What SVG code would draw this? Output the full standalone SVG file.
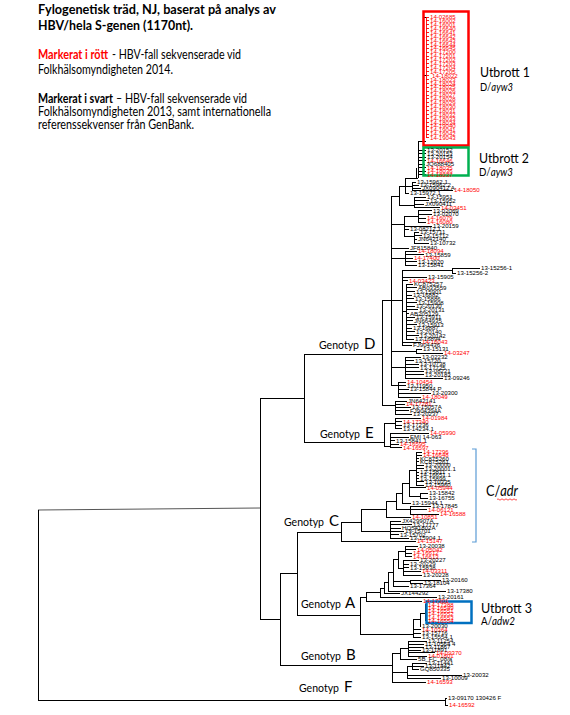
<svg xmlns="http://www.w3.org/2000/svg" width="570" height="715" viewBox="0 0 570 715">
<style>
.bg{fill:#fff}
.br{fill:none;stroke:#000;stroke-width:1}
.rb{fill:none;stroke:#f00;stroke-width:0.9}
.lf{font-family:"Liberation Sans",Arial,sans-serif;font-size:6.1px;fill:#000}
.r{fill:#f00}
.t{font-family:Lato,"Open Sans",sans-serif;font-size:13.5px;font-weight:bold;fill:#000}
.tx{font-family:Lato,"Open Sans",sans-serif;font-size:12.5px;fill:#000}
.gt{font-family:Lato,"Open Sans",sans-serif;font-size:11px;fill:#000}
.gl{font-family:Lato,"Open Sans",sans-serif;font-size:15px;fill:#000}
.ut{font-family:Lato,"Open Sans",sans-serif;font-size:14px;fill:#000}
.us{font-family:Lato,"Open Sans",sans-serif;font-size:11px;fill:#000}
.box{fill:none;stroke-width:2.5}
</style>
<rect class="bg" x="0" y="0" width="570" height="715"/>

<g id="legend">
<text class="t" x="38" y="14" textLength="238" lengthAdjust="spacingAndGlyphs">Fylogenetisk träd, NJ, baserat på analys av</text>
<text class="t" x="38" y="30" textLength="155" lengthAdjust="spacingAndGlyphs">HBV/hela S-genen (1170nt).</text>
<text class="tx" x="38" y="59" textLength="70" lengthAdjust="spacingAndGlyphs" font-weight="bold" style="fill:#f00">Markerat i rött</text>
<text class="tx" x="112" y="59" textLength="129" lengthAdjust="spacingAndGlyphs">-  HBV-fall sekvenserade vid</text>
<text class="tx" x="38" y="74" textLength="135" lengthAdjust="spacingAndGlyphs">Folkhälsomyndigheten 2014.</text>
<text class="tx" x="38" y="103" textLength="75" lengthAdjust="spacingAndGlyphs" font-weight="bold">Markerat i svart</text>
<text class="tx" x="116" y="103" textLength="131" lengthAdjust="spacingAndGlyphs">– HBV-fall sekvenserade vid</text>
<text class="tx" x="38" y="116" textLength="233" lengthAdjust="spacingAndGlyphs">Folkhälsomyndigheten 2013, samt internationella</text>
<text class="tx" x="38" y="129" textLength="156" lengthAdjust="spacingAndGlyphs">referenssekvenser från GenBank.</text>
</g>

<g id="connectors">
<path d="M260,508 L38,510" fill="none" stroke="#555" stroke-width="1"/>
<g shape-rendering="crispEdges">
<path class="br" d="M38,510V700H445M260,398V619M260,398H304M304,354V442M304,354H382M304,442H384M260,619H280M280,573V665M280,573H297M297,532V615M297,532H341M297,615H360M280,665H392"/>
<path class="br" d="M382,300V405M382,300H391M391,196V385M382,405H395M395,401V414M395,401H407M395,404H405M395,407H411M395,410.5H409M395,414H412"/>
<path class="br" d="M391,196H399M399,186V205M399,186H405M405,178V193M405,178H418M418,141V178M418,141H426M405,186H412M412,182V190M412,182H416M412,185H419M412,188H421M412,190H453M405,193H409M399,205H414M414,197V207.5M414,197H426M414,200.5H429M414,204H424M414,207.5H440"/>
<path class="br" d="M423,15V20M423,17.5H426M423,73V78M423,75.5H426"/>
<path class="br" d="M418,150H426M418,153.5H426M418,157H426M418,160.5H426M418,164H425M418,167.5H426M418,171H426M418,174.5H426M416,168V178"/>
<path class="br" d="M391,224H404M404,216V236M404,216H418M418,210.5V222M418,210.5H432M418,214H432M418,218H426M418,222H426M404,226H432M404,229H409M404,236H414M414,232V243M414,232H419M414,235.5H422M414,239H417M414,243H429M391,248H409"/>
<path class="br" d="M391,258H405M405,251V265M405,251H417M405,254.5H424M405,258H413M405,261.5H417M405,265H417"/>
<path class="br" d="M391,300H402M402,270.5V345M402,270.5H452M452,268V273M452,268H480M452,273H456M402,277H427M402,280.5H408M402,311H406M406,284V339M406,284H413M406,287.7H417M406,291.4H415M406,295H412M406,298.7H414M406,302.4H417M406,306H415M406,309.7H418M406,313.4H409M406,317H415M406,320.7H413M406,324.4H417M406,328H412M406,331.7H415M406,335.4H419M406,339H414M402,342H421M402,345H412"/>
<path class="br" d="M391,351H416M416,349V353M416,349H422M416,353H443M391,367H405M405,357V378M405,357H421M405,360.5H414M405,364H419M405,367.5H419M405,371H424M405,374.5H424M405,378H443M391,385H398M398,382V397M398,382H406M398,385.5H406M398,389H409M398,393H431M398,397H421"/>
<path class="br" d="M384,423V446M384,423H395M395,418V428.5M395,418H421M395,421.5H402M395,425H402M395,428.5H402M384,446H390M390,433V447.5M390,433H429M390,437H409M390,440.5H395M390,444H399M390,447.5H402"/>
<path class="br" d="M341,522V541M341,522H361M361,509V531M341,541H416M361,509H386M386,501V517M386,501H396M386,517H411M396,493V509M396,493H402M396,509H410M410,506V514M410,506H431M410,509.5H427M410,514H439M402,483V503M402,483H409M402,503H411M409,470V496M409,470H416M409,487.5H426M409,496H420M420,493V498M420,493H428M420,498H428M416,452V485M416,452H422M416,455H422M416,458.3H419M416,461.5H419M416,465H424M416,468.5H424M416,472H419M416,475H419M416,478.3H419M416,481.7H424M416,485H424"/>
<path class="br" d="M361,531H390M390,521V538M390,521H401M390,524.5H412M390,528H401M390,531H404M390,534.5H399M390,538H409"/>
<path class="br" d="M360,597V634M360,597H366M366,592V601M366,592H380M366,601H422M380,588V597M380,588H384M380,597H437M384,582V593M384,582H388M384,593H400M388,572V591M388,572H393M388,591H446M393,559V586M393,559H398M393,581.5H410M393,586H409M410,580V583M410,580H441M410,583H423M398,551V568M398,551H405M398,568H403M405,546V556.5M405,546H418M405,549.5H416M405,553H412M405,556.5H412M403,560V575M403,560H419M403,564H409M403,567.5H409M403,571H421M403,575H422"/>
<path class="br" d="M360,634H413M413,619V637M413,619H420M420,613V626M420,613H425M425,604.5V620.5M425,604.5H427M425,607.7H427M425,610.9H427M425,614.1H427M425,617.3H427M425,620.5H427M420,626H421M413,629.5H421M413,633H421M413,637H421"/>
<path class="br" d="M392,653V682M392,653H400M400,648V659M400,648H408M400,659H417M408,641V656M408,641H427M408,644H424M408,647H424M408,650H421M408,652.5H435M408,656H427M392,672H407M407,666V678M407,666H412M412,663V669M412,663H427M412,666H424M412,669H419M407,675H462M407,678H441M392,682H426"/>
<path class="br" d="M445,698V705M445,698H447M445,705H448"/>
<path class="rb" d="M426,17V138M426,17H429M426,20.9H429M426,24.8H429M426,28.7H429M426,32.6H429M426,36.5H429M426,40.4H429M426,44.3H429M426,48.2H429M426,52.1H429M426,56H429M426,59.9H429M426,63.8H429M426,67.7H429M426,71.6H429M426,75.5H429M426,79.4H429M426,83.3H429M426,87.2H429M426,91.1H429M426,95H429M426,98.9H429M426,102.8H429M426,106.7H429M426,110.6H429M426,114.5H429M426,118.4H429M426,122.3H429M426,126.2H429M426,130.1H429M426,134H429M426,137.9H429"/>
</g>
</g>

<g id="genotypes">
<g id="genotyp-d"><text class="gt" x="319" y="349" textLength="40" lengthAdjust="spacingAndGlyphs">Genotyp</text><text class="gl" x="364" y="349">D</text></g>
<g id="genotyp-e"><text class="gt" x="320" y="438" textLength="40" lengthAdjust="spacingAndGlyphs">Genotyp</text><text class="gl" x="365" y="438">E</text></g>
<g id="genotyp-c"><text class="gt" x="284" y="526" textLength="40" lengthAdjust="spacingAndGlyphs">Genotyp</text><text class="gl" x="329" y="526">C</text></g>
<g id="genotyp-a"><text class="gt" x="301" y="608" textLength="40" lengthAdjust="spacingAndGlyphs">Genotyp</text><text class="gl" x="345" y="608">A</text></g>
<g id="genotyp-b"><text class="gt" x="301" y="660" textLength="40" lengthAdjust="spacingAndGlyphs">Genotyp</text><text class="gl" x="346" y="660">B</text></g>
<g id="genotyp-f"><text class="gt" x="299" y="692" textLength="40" lengthAdjust="spacingAndGlyphs">Genotyp</text><text class="gl" x="344" y="692">F</text></g>
</g>

<g id="utbrott-1">
<rect class="box" x="423.5" y="11.5" width="45" height="134" stroke="#f00"/>
<text class="ut" x="480" y="77" textLength="50" lengthAdjust="spacingAndGlyphs">Utbrott 1</text>
<text class="us" x="480" y="91" textLength="33" lengthAdjust="spacingAndGlyphs">D/<tspan font-style="italic">ayw3</tspan></text>
</g>
<g id="utbrott-2">
<rect class="box" x="423.5" y="147.5" width="45" height="28" stroke="#00b050"/>
<text class="ut" x="479" y="163" textLength="50" lengthAdjust="spacingAndGlyphs">Utbrott 2</text>
<text class="us" x="479" y="176" textLength="34" lengthAdjust="spacingAndGlyphs">D/<tspan font-style="italic">ayw3</tspan></text>
</g>
<g id="utbrott-3">
<rect class="box" x="426.5" y="601.5" width="45" height="21.5" stroke="#0070c0"/>
<text class="ut" x="481" y="613" textLength="51" lengthAdjust="spacingAndGlyphs">Utbrott 3</text>
<text class="us" x="481" y="625" textLength="34" lengthAdjust="spacingAndGlyphs">A/<tspan font-style="italic">adw2</tspan></text>
</g>
<g id="c-adr">
<path d="M472,449H476V542H472" fill="none" stroke="#5b9bd5" stroke-width="1.2"/>
<text class="gl" x="486" y="496" textLength="32" lengthAdjust="spacingAndGlyphs">C/<tspan font-style="italic">adr</tspan></text>
<path d="M497,499.5q1,-1.3 2,0t2,0t2,0t2,0t2,0t2,0t2,0t2,0t2,0t2,0" fill="none" stroke="#f00" stroke-width="0.7"/>
</g>

<g id="leaves-utbrott1">
<text class="lf r" x="430" y="19.2">14-02685</text><text class="lf r" x="430" y="23.1">14-16002</text><text class="lf r" x="430" y="27">14-16001</text><text class="lf r" x="430" y="30.9">14-16640</text><text class="lf r" x="430" y="34.8">14-16641</text><text class="lf r" x="430" y="38.7">14-16642</text><text class="lf r" x="430" y="42.6">14-16643</text><text class="lf r" x="430" y="46.5">14-16644</text><text class="lf r" x="430" y="50.4">14-16645</text><text class="lf r" x="430" y="54.3">14-17200</text><text class="lf r" x="430" y="58.2">14-17201</text><text class="lf r" x="430" y="62.1">14-17202</text><text class="lf r" x="430" y="66">14-17203</text><text class="lf r" x="430" y="69.9">14-17204</text><text class="lf r" x="430" y="73.8">14-17205</text><text class="lf r" x="432" y="77.7">14-18022</text><text class="lf r" x="430" y="81.6">14-18023</text><text class="lf r" x="430" y="85.5">14-18024</text><text class="lf r" x="430" y="89.4">14-18025</text><text class="lf r" x="430" y="93.3">14-18026</text><text class="lf r" x="430" y="97.2">14-18027</text><text class="lf r" x="430" y="101.1">14-18028</text><text class="lf r" x="430" y="105">14-18029</text><text class="lf r" x="430" y="108.9">14-18030</text><text class="lf r" x="430" y="112.8">14-18031</text><text class="lf r" x="430" y="116.7">14-18032</text><text class="lf r" x="430" y="120.6">14-18033</text><text class="lf r" x="430" y="124.5">14-18034</text><text class="lf r" x="430" y="128.4">14-19040</text><text class="lf r" x="430" y="132.3">14-19041</text><text class="lf r" x="430" y="136.2">14-19042</text><text class="lf r" x="430" y="140.1">14-19043</text>
</g>
<g id="leaves-utbrott2">
<text class="lf" x="427" y="152.2">13-20152</text><text class="lf" x="427" y="155.7">13-20153</text><text class="lf" x="427" y="159.2">13-20154</text><text class="lf r" x="427" y="162.7">14-16646</text><text class="lf" x="426" y="166.2">JQ688405</text><text class="lf r" x="427" y="169.7">14-18035</text><text class="lf r" x="427" y="173.2">14-18036</text><text class="lf r" x="427" y="176.7">14-18037</text>
</g>
<g id="leaves-d">
<text class="lf" x="417" y="184.2">13-15962.1</text><text class="lf" x="420" y="187.2">13-15962.2</text><text class="lf" x="422" y="190.2">JX090412 A</text><text class="lf r" x="454" y="192.2">14-18050</text><text class="lf" x="410" y="195.2">13-15972.1</text>
<text class="lf" x="427" y="199.2">13-15951</text><text class="lf" x="430" y="202.7">13-15952</text><text class="lf" x="425" y="206.2">JX090411</text><text class="lf r" x="441" y="209.7">14-03451</text>
<text class="lf" x="433" y="212.7">13-02069</text><text class="lf" x="433" y="216.2">13-02070</text><text class="lf r" x="427" y="220.2">14-16079</text><text class="lf r" x="427" y="224.2">14-16080</text><text class="lf" x="433" y="228.2">13-20159</text><text class="lf" x="410" y="231.2">13-08212.1</text>
<text class="lf" x="420" y="234.2">13-15711</text><text class="lf" x="423" y="237.7">13-15712</text><text class="lf" x="418" y="241.2">JN642140</text><text class="lf" x="430" y="245.2">13-10732</text><text class="lf" x="410" y="250.2">JF815840</text>
<text class="lf r" x="418" y="253.2">14-18094</text><text class="lf" x="425" y="256.7">13-15859</text><text class="lf r" x="414" y="260.2">14-17400</text><text class="lf" x="418" y="263.7">13-12020</text><text class="lf" x="418" y="267.2">13-15841</text>
<text class="lf" x="481" y="270.2">13-15256-1</text><text class="lf" x="457" y="275.2">13-15256-2</text><text class="lf" x="428" y="279.2">13-15905</text><text class="lf r" x="409" y="282.7">14-03423</text>
<text class="lf" x="414" y="286.2">KC875257</text><text class="lf" x="418" y="289.9">AB033559</text><text class="lf" x="416" y="293.6">13-15901</text><text class="lf" x="413" y="297.2">13-16882</text><text class="lf" x="415" y="300.9">13-15886</text><text class="lf" x="418" y="304.6">13-15908</text><text class="lf" x="416" y="308.2">13-20130</text><text class="lf" x="419" y="311.9">13-20131</text><text class="lf" x="410" y="315.6">AB205129</text><text class="lf" x="416" y="319.2">13-15911</text><text class="lf" x="414" y="322.9">JN664935</text><text class="lf" x="418" y="326.6">13-15913</text><text class="lf" x="413" y="330.2">13-16887</text><text class="lf" x="416" y="333.9">13-20140</text><text class="lf" x="420" y="337.6">13-20142</text><text class="lf" x="415" y="341.2">13-16894</text>
<text class="lf r" x="422" y="344.2">14-16043</text><text class="lf" x="413" y="347.2">FJ904436</text><text class="lf" x="423" y="351.2">13-15131</text><text class="lf r" x="444" y="355.2">14-03247</text>
<text class="lf" x="422" y="359.2">13-02232</text><text class="lf" x="415" y="362.7">13-15720</text><text class="lf" x="420" y="366.2">13-10738</text><text class="lf" x="420" y="369.7">13-17725</text><text class="lf" x="425" y="373.2">13-08221</text><text class="lf" x="425" y="376.7">13-20183</text><text class="lf" x="444" y="380.2">13-09246</text>
<text class="lf r" x="407" y="384.2">14-10454</text><text class="lf" x="407" y="387.7">13-11950</text><text class="lf" x="410" y="391.2">13-15844 P</text><text class="lf" x="432" y="395.2">13-20300</text><text class="lf r" x="422" y="399.2">14-18049</text>
<text class="lf" x="408" y="403.2">JN642141</text><text class="lf r" x="406" y="406.2">14-17281</text><text class="lf" x="412" y="409.2">13-15057A</text><text class="lf" x="410" y="412.7">FJ904394A</text><text class="lf" x="413" y="416.2">13-20237</text>
</g>
<g id="leaves-e">
<text class="lf r" x="422" y="420.2">14-01984</text><text class="lf r" x="403" y="423.7">14-17340</text><text class="lf" x="403" y="427.2">13-17236</text><text class="lf" x="403" y="430.7">13-14234.1</text><text class="lf r" x="430" y="435.2">14-05990</text><text class="lf" x="410" y="439.2">EMI 14-063</text><text class="lf" x="396" y="442.7">13-15841.1</text><text class="lf r" x="400" y="446.2">14-16595</text><text class="lf r" x="403" y="449.7">14-16597</text>
</g>
<g id="leaves-c">
<text class="lf r" x="423" y="454.2">14-17296</text><text class="lf r" x="423" y="457.2">14-16648</text><text class="lf" x="420" y="460.5">KC875260</text><text class="lf" x="420" y="463.7">KC875261</text><text class="lf" x="425" y="467.2">13-20000</text><text class="lf" x="425" y="470.7">13-20001.1</text><text class="lf" x="420" y="474.2">13-15811</text><text class="lf" x="420" y="477.2">14-16651.1</text><text class="lf" x="420" y="480.5">13-15899</text><text class="lf" x="425" y="483.9">13-10335</text><text class="lf" x="425" y="487.2">13-15960</text>
<text class="lf r" x="427" y="489.7">14-05944</text><text class="lf" x="429" y="495.2">13-15842</text><text class="lf" x="429" y="500.2">13-16755</text><text class="lf" x="412" y="505.2">13-15944.1</text><text class="lf" x="432" y="508.2">13-17845</text><text class="lf r" x="428" y="511.7">14-06121</text><text class="lf r" x="440" y="516.2">14-16588</text><text class="lf r" x="412" y="519.2">14-10851</text>
<text class="lf" x="402" y="523.2">JX429907A</text><text class="lf" x="413" y="526.7">13-17777</text><text class="lf" x="402" y="530.2">HQ541802A</text><text class="lf" x="405" y="533.2">13-15701</text><text class="lf" x="400" y="536.7">13-15702</text><text class="lf" x="410" y="540.2">13-15904.1</text><text class="lf r" x="417" y="543.2">14-15147</text>
</g>
<g id="leaves-a">
<text class="lf" x="419" y="548.2">13-20038</text><text class="lf r" x="417" y="551.7">14-05042</text><text class="lf r" x="413" y="555.2">14-16612</text><text class="lf r" x="413" y="558.7">14-16613</text><text class="lf" x="420" y="562.2">13-20227</text><text class="lf" x="410" y="566.2">13-20229</text><text class="lf" x="410" y="569.7">13-15838</text><text class="lf r" x="422" y="573.2">14-03311</text><text class="lf" x="423" y="577.2">13-20228</text>
<text class="lf" x="442" y="582.2">13-20160</text><text class="lf" x="424" y="585.2">13-18104</text><text class="lf" x="410" y="588.2">13-17364</text><text class="lf" x="447" y="593.2">13-17380</text><text class="lf" x="401" y="595.2">JX144292</text><text class="lf" x="438" y="599.2">13-20161</text><text class="lf r" x="423" y="603.2">14-17301</text>
<text class="lf r" x="428" y="606.7">14-17388</text><text class="lf r" x="428" y="609.9">14-16549</text><text class="lf r" x="428" y="613.1">14-16551</text><text class="lf r" x="428" y="616.3">14-16552</text><text class="lf r" x="428" y="619.5">14-16553</text><text class="lf r" x="428" y="622.7">14-16554</text>
<text class="lf" x="422" y="628.2">13-20030</text><text class="lf r" x="422" y="631.7">14-10364</text><text class="lf" x="422" y="635.2">13-15716</text><text class="lf" x="422" y="639.2">13-15554.1</text>
</g>
<g id="leaves-b">
<text class="lf" x="428" y="643.2">13-11254</text><text class="lf" x="425" y="646.2">11-10564 4</text><text class="lf" x="425" y="649.2">13-11867</text><text class="lf" x="422" y="652.2">13-11891</text><text class="lf r" x="436" y="654.7">14-09370</text><text class="lf r" x="428" y="658.2">14-01801</text><text class="lf" x="418" y="661.2">5B_FC_08/a</text><text class="lf" x="428" y="665.2">13-11441</text><text class="lf" x="425" y="668.2">13-11442</text><text class="lf" x="420" y="671.2">GQ850335</text><text class="lf" x="463" y="677.2">13-20032</text><text class="lf" x="442" y="680.2">13-10009</text><text class="lf r" x="427" y="684.2">14-16593</text>
</g>
<g id="leaves-f">
<text class="lf" x="448" y="700.2">13-09170 130426 F</text><text class="lf r" x="449" y="707.2">14-16592</text>
</g>
</svg>
